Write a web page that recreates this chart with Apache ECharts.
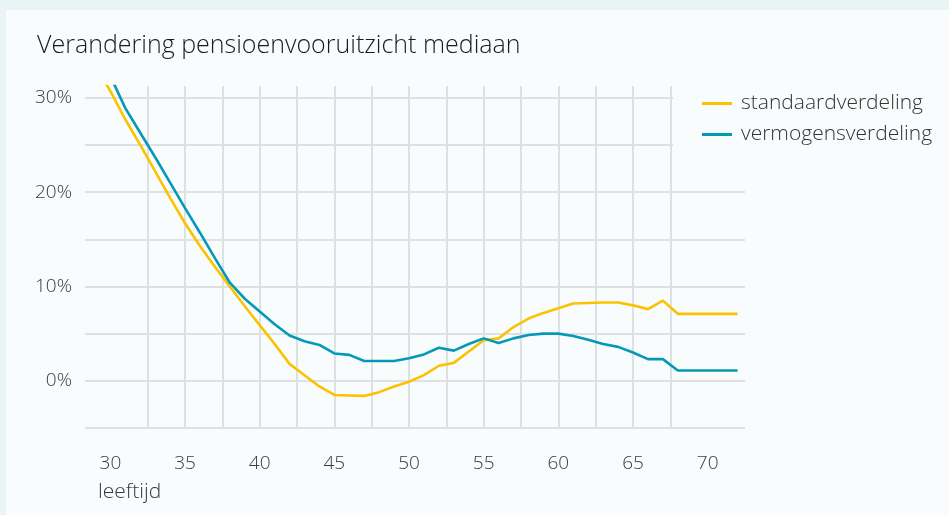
<!DOCTYPE html>
<html>
<head>
<meta charset="utf-8">
<script src="https://cdn.jsdelivr.net/npm/echarts@6/dist/echarts.min.js"></script>
<style>
  html, body { margin: 0; padding: 0; background: #e9f4f6; }
  #chart { width: 949px; height: 515px; }
</style>
</head>
<body>
<div id="chart"></div>
<script>
// leeftijd (age) per point
var ages = [29, 30, 31, 32, 33, 34, 35, 36, 37, 38, 39, 40, 41, 42, 43, 44, 45, 46, 47, 48, 49, 50,
            51, 52, 53, 54, 55, 56, 57, 58, 59, 60, 61, 62, 63, 64, 65, 66, 67, 68, 69, 70, 71, 72];

// change in % per age
var standaard = [33.4, 30.7, 27.7, 25.0, 22.2, 19.4, 16.7, 14.3, 12.1, 10.0, 7.9, 5.9, 3.9, 1.8, 0.6, -0.6, -1.5, -1.55, -1.6, -1.2, -0.6, -0.1,
                 0.6, 1.6, 1.9, 3.1, 4.3, 4.5, 5.7, 6.6, 7.2, 7.7, 8.2, 8.25, 8.3, 8.3, 8.0, 7.6, 8.5, 7.1, 7.1, 7.1, 7.1, 7.1];
var vermogens = [35.6, 32.3, 28.9, 26.3, 23.7, 21.0, 18.3, 15.7, 13.0, 10.4, 8.7, 7.35, 6.0, 4.8, 4.2, 3.8, 2.9, 2.75, 2.1, 2.1, 2.1, 2.4,
                 2.8, 3.5, 3.2, 3.9, 4.5, 4.0, 4.5, 4.85, 5.0, 5.0, 4.75, 4.35, 3.9, 3.6, 3.0, 2.3, 2.3, 1.1, 1.1, 1.1, 1.1, 1.1];

var xGridValues = [30, 32.5, 35, 37.5, 40, 42.5, 45, 47.5, 50, 52.5, 55, 57.5, 60, 62.5, 65, 67.5, 70];
var xLabelValues = [30, 35, 40, 45, 50, 55, 60, 65, 70];
var yLabelValues = [0, 10, 20, 30];

var seriesNames = ['standaardverdeling', 'vermogensverdeling'];
var yellow = '#fcc200',
    blue = '#0599b8',
    gridColor = '#dde1e2',
    textColor = '#3a3a3a';

function toPairs(xs, ys){
    return xs.map(function(x, i){ return [x, ys[i]]; });
}

var myChart = echarts.init(document.getElementById('chart'));

var option = {
    backgroundColor: '#e9f4f6',
    animation: false,
    textStyle: { fontFamily: 'Open Sans', fontWeight: 300 },
    title: {
        text: 'Verandering pensioenvooruitzicht mediaan',
        left: 37,
        top: 33,
        padding: 0,
        textStyle: { fontSize: 25, fontWeight: 300, color: '#1b1b1b', fontFamily: 'Open Sans' }
    },
    legend: {
        orient: 'vertical',
        left: 697,
        top: 87,
        icon: 'rect',
        itemWidth: 30,
        itemHeight: 3,
        itemGap: 8,
        data: seriesNames,
        textStyle: { fontSize: 21, fontWeight: 300, color: '#333', lineHeight: 23, padding: [0, 0, 0, 4] }
    },
    grid: { left: 85, right: 204, top: 86, bottom: 87 },
    xAxis: {
        type: 'value',
        min: 28.3,
        max: 72.5,
        axisLine: { show: false },
        axisTick: { show: false, customValues: xGridValues },
        axisLabel: {
            customValues: xLabelValues,
            fontSize: 19,
            fontWeight: 300,
            color: textColor,
            margin: 26
        },
        splitLine: {
            show: true,
            showMinLine: false,
            showMaxLine: false,
            lineStyle: { color: gridColor, width: 2 }
        }
    },
    yAxis: {
        type: 'value',
        min: -5,
        max: 31.25,
        interval: 5,
        axisLine: { show: false },
        axisTick: { show: false },
        axisLabel: {
            fontSize: 19,
            fontWeight: 300,
            color: textColor,
            margin: 13,
            showMaxLabel: false,
            formatter: function(v){
                return yLabelValues.indexOf(v) >= 0 ? v + '%' : '';
            }
        },
        splitLine: {
            show: true,
            showMaxLine: false,
            lineStyle: { color: gridColor, width: 2 }
        }
    },
    graphic: [
        {   // white-ish panel
            type: 'rect', z: -10, silent: true,
            shape: { x: 6, y: 10, width: 960, height: 520 },
            style: { fill: '#f8fcfd' }
        },
        {   // legend box covers the grid corner
            type: 'rect', z: 1, silent: true,
            shape: { x: 673, y: 78, width: 290, height: 112 },
            style: { fill: '#f8fcfd' }
        },
        {
            type: 'text', silent: true,
            left: 98, top: 482,
            style: { text: 'leeftijd', font: '300 21px "Open Sans"', fill: textColor }
        }
    ],
    series: [
        {
            name: seriesNames[0],
            type: 'line',
            data: toPairs(ages, standaard),
            showSymbol: false,
            color: yellow,
            lineStyle: { width: 2.6, color: yellow }
        },
        {
            name: seriesNames[1],
            type: 'line',
            data: toPairs(ages, vermogens),
            showSymbol: false,
            color: blue,
            lineStyle: { width: 2.6, color: blue }
        }
    ]
};

myChart.setOption(option);
</script>
</body>
</html>
